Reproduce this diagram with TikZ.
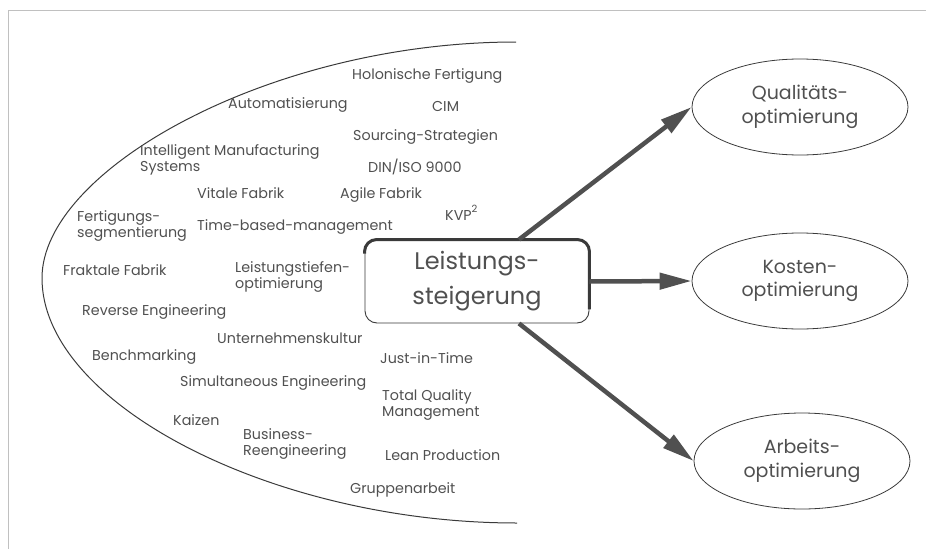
\documentclass[tikz,border=0pt]{standalone}
\usepackage{fontspec}
\setmainfont{Poppins}
\usetikzlibrary{shapes.geometric,arrows.meta}
\definecolor{txt}{HTML}{505050}
\definecolor{ink}{HTML}{3A3A3A}
\definecolor{arr}{HTML}{505050}
\definecolor{frame}{HTML}{C0C0C0}
\begin{document}
\begin{tikzpicture}[x=1pt,y=-1pt,
  lbl/.style={anchor=west, inner sep=0pt, align=left, text=txt,
    font=\fontsize{14.3}{16.5}\selectfont},
  centre/.style={draw=ink, line width=0.9pt, rounded corners=12pt,
    minimum width=224pt, minimum height=83pt, align=center, text=txt,
    font=\fontsize{24}{35}\selectfont},
  goal/.style={ellipse, draw=ink, line width=0.8pt, minimum width=216pt,
    minimum height=96pt, inner sep=0pt, align=center, text=txt,
    font=\fontsize{19}{23.5}\selectfont},
  flow/.style={draw=arr, line width=4.5pt,
    -{Triangle[length=32pt,width=16pt]}}]
\useasboundingbox (0,0) rectangle (926,549);

% faint outer frame (top and left edge)
\draw[frame, line width=0.7pt] (926,10) -- (8,10) -- (8,549);

% half-ellipse enclosing the methods
\draw[ink, line width=1pt] (516,42) .. controls (270,42) and (42,170) .. (42,278)
  .. controls (42,405) and (275,523) .. (517,523);

% methods and concepts
\node[lbl] (h1)  at (352,76)  {Holonische Fertigung};
\node[lbl] (h2)  at (228,105) {Automatisierung};
\node[lbl] (h3)  at (432,106) {CIM};
\node[lbl] (h4)  at (353,137) {Sourcing-Strategien};
\node[lbl] (h5)  at (140,160) {Intelligent Manufacturing\\Systems};
\node[lbl] (h6)  at (368,167) {DIN/ISO 9000};
\node[lbl] (h7)  at (197,193) {Vitale Fabrik};
\node[lbl] (h8)  at (340,195) {Agile Fabrik};
\node[lbl, anchor=base west] (h9) at (445,220) {KVP\raisebox{8pt}{\fontsize{10}{10}\selectfont 2}};
\node[lbl] (h10) at (77,226)  {Fertigungs-\\segmentierung};
\node[lbl] (h11) at (197,227) {Time-based-management};
\node[lbl] (h12) at (63,270)  {Fraktale Fabrik};
\node[lbl] (h13) at (235,277) {Leistungstiefen-\\optimierung};
\node[lbl] (h14) at (82,312)  {Reverse Engineering};
\node[lbl] (h15) at (217,338) {Unternehmenskultur};
\node[lbl] (h16) at (92,357)  {Benchmarking};
\node[lbl] (h17) at (380,358) {Just-in-Time};
\node[lbl] (h18) at (180,383) {Simultaneous Engineering};
\node[lbl] (h19) at (382,405) {Total Quality\\Management};
\node[lbl] (h20) at (173,420) {Kaizen};
\node[lbl] (h21) at (243,444) {Business-\\Reengineering};
\node[lbl] (h22) at (385,455) {Lean Production};
\node[lbl] (h23) at (350,490) {Gruppenarbeit};

% central box, heavier edge along top and right
\node[centre] (box) at (477,281.5) {Leistungs-\\steigerung};
\draw[ink, line width=3pt, rounded corners=12pt]
  ([yshift=-14pt]box.north west) -- (box.north west) -- (box.north east)
  -- ([yshift=14pt]box.south east);

% goals
\node[goal] (q) at (800,107) {Qualitäts-\\optimierung};
\node[goal] (k) at (800,281) {Kosten-\\optimierung};
\node[goal] (a) at (802,461) {Arbeits-\\optimierung};

% arrows
\draw[flow] (box.45) -- (q.west);
\draw[flow] (box.east) -- (k.west);
\draw[flow] (box.-45) -- (a.west);
\end{tikzpicture}
\end{document}
